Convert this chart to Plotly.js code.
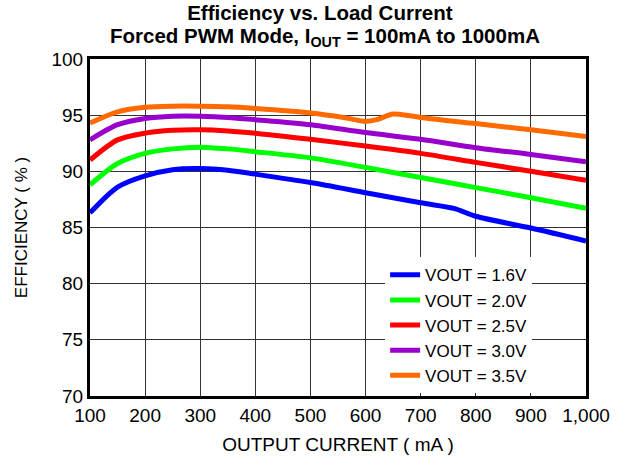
<!DOCTYPE html>
<html>
<head>
<meta charset="utf-8">
<script src="https://cdn.plot.ly/plotly-3.0.1.min.js"></script>
<style>html,body{margin:0;padding:0;background:#fff;}#chart{width:620px;height:462px;}</style>
</head>
<body>
<div id="chart"></div>
<script>
// Data
const seriesNames = ['VOUT = 1.6V', 'VOUT = 2.0V', 'VOUT = 2.5V', 'VOUT = 3.0V', 'VOUT = 3.5V'];
const seriesColors = ['#0000FF', '#00FF00', '#FF0000', '#9900CC', '#FF6A00'];

const xBlue   = [100, 150, 200, 250, 300, 350, 400, 500, 600, 700, 760, 800, 900, 1000];
const yBlue   = [86.3, 88.6, 89.6, 90.15, 90.25, 90.1, 89.75, 89.0, 88.1, 87.2, 86.7, 86.0, 84.95, 83.8];

const xGreen  = [100, 150, 200, 250, 300, 350, 400, 500, 600, 700, 800, 900, 1000];
const yGreen  = [88.8, 90.7, 91.6, 92.0, 92.15, 92.0, 91.75, 91.2, 90.35, 89.45, 88.55, 87.65, 86.7];

const xRed    = [100, 150, 200, 250, 300, 350, 400, 500, 600, 700, 800, 900, 1000];
const yRed    = [91.0, 92.8, 93.4, 93.65, 93.7, 93.6, 93.4, 92.85, 92.25, 91.6, 90.8, 90.0, 89.2];

const xPurple = [100, 150, 200, 250, 300, 350, 400, 500, 600, 700, 800, 900, 1000];
const yPurple = [92.8, 94.15, 94.7, 94.9, 94.9, 94.8, 94.6, 94.15, 93.45, 92.85, 92.1, 91.5, 90.85];

const xOrange = [100, 150, 200, 250, 300, 350, 400, 500, 560, 600, 620, 650, 680, 700, 800, 900, 1000];
const yOrange = [94.3, 95.3, 95.7, 95.8, 95.8, 95.75, 95.6, 95.2, 94.8, 94.45, 94.6, 95.1, 94.95, 94.8, 94.25, 93.7, 93.1];

const xTicks = [100, 200, 300, 400, 500, 600, 700, 800, 900, 1000];
const yTicks = [70, 75, 80, 85, 90, 95, 100];

const titleLine1 = 'Efficiency vs. Load Current';
const titleLine2 = 'Forced PWM Mode, I<sub>OUT</sub> = 100mA to 1000mA';

const xs = [xBlue, xGreen, xRed, xPurple, xOrange];
const ys = [yBlue, yGreen, yRed, yPurple, yOrange];

const FONT = 'Liberation Sans, Arial, sans-serif';

const traces = xs.map((x, i) => ({
  x: x, y: ys[i], name: seriesNames[i], type: 'scatter', mode: 'lines',
  line: {color: seriesColors[i], width: 5, shape: 'spline', smoothing: 0.8}
}));

const layout = {
  width: 620, height: 462,
  margin: {l: 90, r: 34, t: 59, b: 66},
  paper_bgcolor: '#fff', plot_bgcolor: '#fff',
  font: {family: FONT, size: 18, color: '#000'},
  title: {
    text: '<b>' + titleLine1 + '</b>',
    font: {family: FONT, size: 20.5, color: '#000'},
    x: 0.516, xanchor: 'center', y: 0.972, yanchor: 'middle', yref: 'container'
  },
  annotations: [{
    text: '<b>' + titleLine2 + '</b>',
    font: {family: FONT, size: 20.5, color: '#000'},
    xref: 'paper', yref: 'paper', x: 0.474, y: 1.066, xanchor: 'center', yanchor: 'middle',
    showarrow: false
  }],
  xaxis: {
    range: [100, 1000], tickvals: xTicks, tickformat: ',d',
    showgrid: true, gridcolor: '#333', gridwidth: 1,
    showline: true, linecolor: '#000', linewidth: 3, mirror: true,
    ticks: 'inside', ticklen: 8, tickcolor: '#333',
    zeroline: false,
    tickfont: {family: FONT, size: 19, color: '#000'},
    title: {text: 'OUTPUT CURRENT ( mA )', font: {family: FONT, size: 19, color: '#000'}, standoff: 13}
  },
  yaxis: {
    range: [70, 100], tickvals: yTicks,
    showgrid: true, gridcolor: '#333', gridwidth: 1,
    showline: true, linecolor: '#000', linewidth: 3, mirror: true,
    ticks: '', zeroline: false,
    tickfont: {family: FONT, size: 19, color: '#000'},
    title: {text: 'EFFICIENCY ( % )', font: {family: FONT, size: 17, color: '#000'}, standoff: 20}
  },
  legend: {
    x: 0.595, y: 0.008, xanchor: 'left', yanchor: 'bottom',
    bgcolor: '#fff', borderwidth: 0,
    font: {family: FONT, size: 17, color: '#000'},
    tracegroupgap: 0
  },
  showlegend: true
};

Plotly.newPlot('chart', traces, layout, {staticPlot: true});
</script>
</body>
</html>
